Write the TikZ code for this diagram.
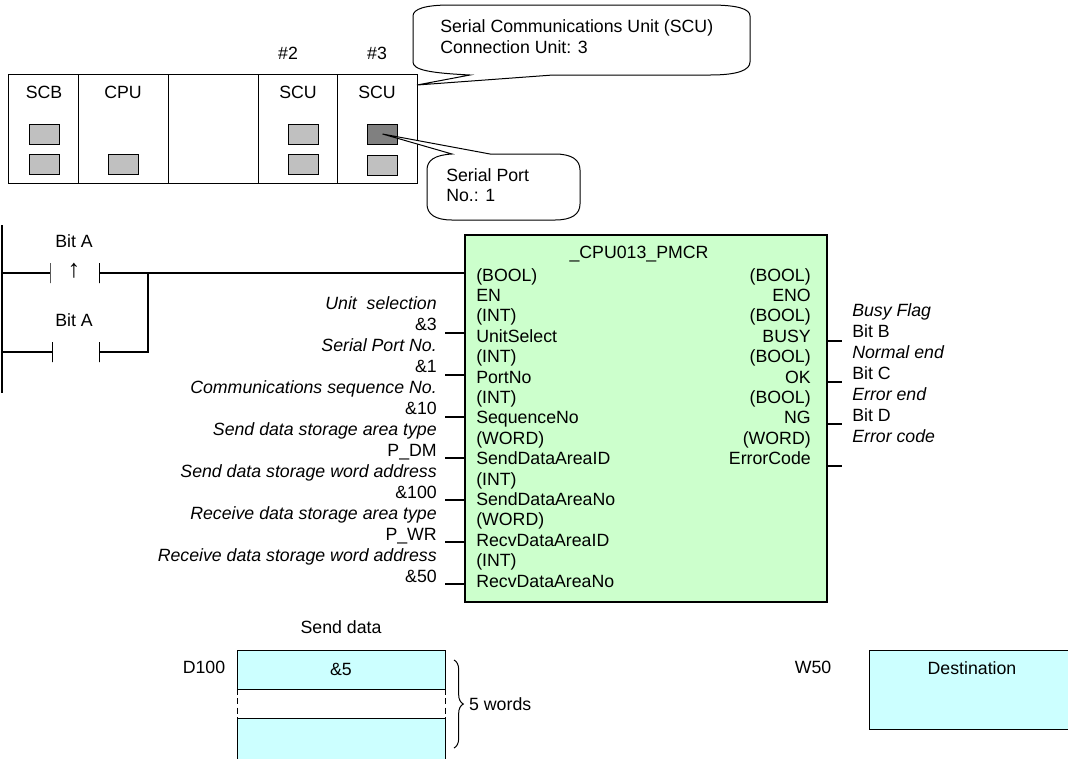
\documentclass[tikz,border=0pt]{standalone}
\usepackage{fontspec}
\setmainfont{Liberation Sans}
\usepackage{tikz}
\usetikzlibrary{positioning,calc,decorations.pathreplacing}

\definecolor{fbgreen}{HTML}{CCFFCC}
\definecolor{datacyan}{HTML}{CCFFFF}
\definecolor{portgray}{HTML}{C0C0C0}
\definecolor{portdark}{HTML}{808080}

\begin{document}
\begin{tikzpicture}[
  x=0.75pt, y=-0.75pt,
  font=\fontsize{13.3}{15.5}\selectfont,
  lw/.style={line width=0.75pt},
  slot/.style={draw, lw, inner sep=0pt, outer sep=0pt, minimum height=81.75pt},
  port/.style={draw, lw, fill=portgray, inner sep=0pt, outer sep=0pt, minimum width=22.5pt, minimum height=15pt},
  bar/.style={draw, lw, inner sep=0pt, outer sep=0pt, minimum width=0pt, minimum height=15pt},
  wire/.style={line width=0.9pt},
  pin/.style={line width=0.8pt},
  fblock/.style={draw, line width=1.7pt, fill=fbgreen, inner sep=0pt, outer sep=0pt, minimum width=271.5pt, minimum height=275pt},
  data/.style={draw, lw, fill=datacyan, inner sep=0pt, outer sep=0pt},
  cloud/.style={draw, lw, fill=white},
  lbl/.style={inner sep=0pt},
  col/.style={inner sep=0pt, align=left, anchor=north west},
  fbcol/.style={col, font=\fontsize{13.3}{15.3}\selectfont},
  sidecol/.style={col, font=\fontsize{13.3}{15.72}\selectfont}
]
\clip (0,0) rectangle (1068,758);

% ---- rack ----
\node[slot, minimum width=52.5pt] (scb) at (43,128.5) {};
\node[slot, minimum width=67.5pt, right=0pt of scb] (cpu) {};
\node[slot, minimum width=67.5pt, right=0pt of cpu] (blank) {};
\node[slot, minimum width=59.25pt, right=0pt of blank] (scua) {};
\node[slot, minimum width=60pt, right=0pt of scua] (scub) {};

\node[lbl] at (44,92) {SCB};
\node[lbl] at (123,92) {CPU};
\node[lbl] at (298,92) {SCU};
\node[lbl] at (377,92) {SCU};
\node[lbl] at (288,53) {\#2};
\node[lbl] at (377,53) {\#3};

\node[port] (p1) at (44,134) {};
\node[port] (p2) at (44,164) {};
\node[port] (p3) at (123.5,164) {};
\node[port] (p4) at (303,134) {};
\node[port] (p5) at (303,164) {};
\node[port, fill=portdark] (p6) at (382.5,134) {};
\node[port] (p7) at (382.5,165) {};

% ---- callouts ----
\coordinate (tipa) at (scub.north east |- 0,85);
\draw[cloud] (tipa) -- (470,75) .. controls (430,73) and (413,70) .. (413,62)
  -- (413,16) .. controls (413,9) and (425,5) .. (450,5)
  -- (710,5) .. controls (738,5) and (750,9) .. (750,16)
  -- (750,62) .. controls (750,70) and (738,75) .. (710,75)
  -- (553,75) -- cycle;
\node[col] at (440,19.5) {Serial Communications Unit (SCU)\\Connection Unit: 3};

\coordinate (tipb) at (p6.center);
\draw[cloud] (tipb) -- (452,154) .. controls (435,155) and (427,160) .. (427,170)
  -- (427,204) .. controls (427,214) and (435,220) .. (452,220)
  -- (555,220) .. controls (572,220) and (580,214) .. (580,204)
  -- (580,170) .. controls (580,160) and (572,154) .. (555,154)
  -- (490,154) -- cycle;
\node[col] at (446,168) {Serial Port\\No.: 1};

% ---- ladder ----
\coordinate (railtop) at (2,225);
\coordinate (railbot) at (2,393);
\draw[wire] (railtop) -- (railbot);
\node[lbl] at (74,241) {Bit A};
\node[lbl] at (74,320) {Bit A};
\node[bar] (ca) at (50,273) {};
\node[bar] (cb) at (99.5,273) {};
\node[bar] (cc) at (52.5,352) {};
\node[bar] (cd) at (99.5,352) {};
\node[lbl, font=\fontsize{19}{19}\selectfont] at (74,271) {↑};
\coordinate (joint) at (148,273);
\draw[wire] (railtop |- ca) -- (ca);
\draw[wire] (railtop |- cc) -- (cc);
\draw[wire] (cd) -| (joint);

% ---- function block ----
\node[fblock] (fb) at (646,418.5) {};
\draw[wire] (cb) -- (fb.west |- cb);
\node[lbl] at (639,254) {\_CPU013\_PMCR};
\node[fbcol] at (476,268) {(BOOL)\\EN\\(INT)\\UnitSelect\\(INT)\\PortNo\\(INT)\\SequenceNo\\(WORD)\\SendDataAreaID\\(INT)\\SendDataAreaNo\\(WORD)\\RecvDataAreaID\\(INT)\\RecvDataAreaNo};
\node[fbcol, align=right, anchor=north east] at (811,268) {(BOOL)\\ENO\\(BOOL)\\BUSY\\(BOOL)\\OK\\(BOOL)\\NG\\(WORD)\\ErrorCode};

\node[sidecol, align=right, anchor=north east] at (437,296.5) {\textit{Unit\ \ selection}\\\&3\\\textit{Serial Port No.}\\\&1\\\textit{Communications sequence No.}\\\&10\\\textit{Send data storage area type}\\P\_DM\\\textit{Send data storage word address}\\\&100\\\textit{Receive data storage area type}\\P\_WR\\\textit{Receive data storage word address}\\\&50};
\node[sidecol] at (852,303.5) {\textit{Busy Flag}\\Bit B\\\textit{Normal end}\\Bit C\\\textit{Error end}\\Bit D\\\textit{Error code}};

\foreach \i/\y in {a/333,b/375,c/417,d/458,e/500,f/542,g/584} {
  \coordinate (in\i) at (445,\y);
  \draw[pin] (in\i) -- (in\i -| fb.west);
}
\foreach \i/\y in {a/341,b/382,c/424,d/466} {
  \coordinate (out\i) at (842,\y);
  \draw[pin] (fb.east |- out\i) -- (out\i);
}

% ---- send data ----
\node[lbl] at (341,627) {Send data};
\node[lbl] at (204,667) {D100};
\node[data, minimum width=156pt, minimum height=29.25pt] (sendtop) at (341,669.5) {\&5};
\node[data, minimum width=156pt, minimum height=36pt, anchor=north] (sendbot) at (341,718) {};
\draw[lw, dash pattern=on 4.5pt off 2.5pt] (sendtop.south west) -- (sendbot.north west);
\draw[lw, dash pattern=on 4.5pt off 2.5pt] (sendtop.south east) -- (sendbot.north east);
\coordinate (bracea) at (454,660);
\coordinate (braceb) at (454,748);
\draw[lw, decorate, decoration={brace, amplitude=7pt}] (bracea) -- (braceb)
  node[midway, right=11pt, inner sep=0pt] (words) {5 words};

% ---- destination ----
\node[lbl] at (813,667) {W50};
\node[data, minimum width=165pt, minimum height=59.25pt, anchor=north west] (dest) at (869,650) {};
\node[lbl] at (972,668) {Destination};
\end{tikzpicture}
\end{document}
